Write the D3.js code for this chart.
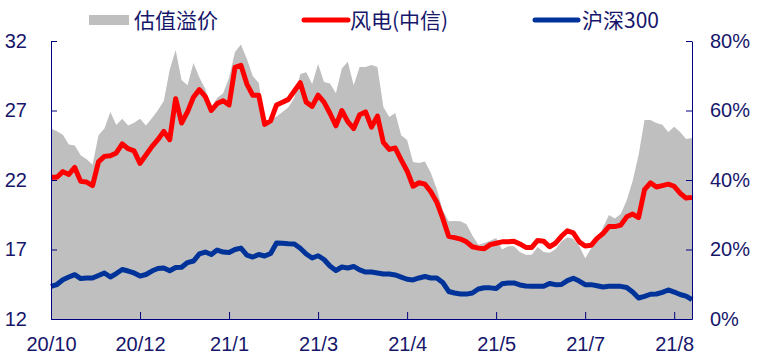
<!DOCTYPE html>
<html>
<head>
<meta charset="utf-8">
<script src="https://cdn.jsdelivr.net/npm/d3@7"></script>
<style>
  body { margin: 0; background: #fff; }
  .axis text { font-family: "Liberation Sans", Arial, sans-serif; font-size: 20px; fill: #16166b; }
  .axis path, .axis line { stroke: #000080; stroke-width: 1; }
  .legend text { font-family: "Noto Sans CJK SC", sans-serif; font-size: 21px; fill: #16166b; }
</style>
</head>
<body>
<script>
// x tick labels, one every 15 points
var tickLabels = ["20/10", "20/12", "21/1", "21/3", "21/4", "21/5", "21/7", "21/8"];
var tickStep = 15;

// 估值溢价 (%) - right axis
var premium = [54.8,54.0,53.0,50.2,49.9,47.1,46.0,44.4,52.9,54.8,
  59.6,55.8,57.6,55.7,56.5,57.6,55.7,57.8,60.1,62.7,
  71.7,77.4,68.8,67.3,73.7,69.5,66.2,61.0,63.6,65.0,
  69.4,76.8,79.0,74.8,69.9,67.9,57.0,57.3,58.3,59.6,
  60.9,63.7,70.5,71.0,67.6,73.4,68.2,67.8,65.0,72.1,
  74.0,67.3,72.5,72.5,73.1,72.5,61.0,58.1,59.3,52.9,
  51.5,45.2,44.9,45.3,42.0,37.4,31.4,28.1,28.2,28.1,
  27.3,24.0,21.4,21.9,22.5,23.3,20.0,20.9,20.9,19.3,
  18.5,18.5,20.7,19.3,19.1,20.1,22.3,23.5,23.0,21.0,
  17.5,20.3,22.4,26.3,29.9,28.9,30.2,34.2,39.7,47.2,
  57.3,57.3,56.4,55.9,53.8,55.3,53.8,51.8,52.1];

// 风电(中信) PE - left axis
var windPE = [22.2,22.2,22.6,22.4,22.9,21.9,21.85,21.6,23.3,23.7,
  23.75,23.95,24.6,24.25,24.1,23.2,23.8,24.4,24.9,25.5,
  24.9,27.85,26.1,26.9,27.95,28.5,28.0,27.0,27.5,27.7,
  27.4,30.1,30.25,28.9,28.1,28.1,26.0,26.25,27.4,27.6,
  27.8,28.4,29.0,27.6,27.3,28.1,27.6,26.8,25.9,27.0,
  26.2,25.7,26.7,26.9,25.8,26.6,24.7,24.2,24.3,23.45,
  22.65,21.55,21.8,21.7,21.15,20.4,19.25,17.95,17.85,17.75,
  17.55,17.2,17.1,17.05,17.35,17.45,17.55,17.55,17.6,17.4,
  17.15,17.15,17.65,17.6,17.2,17.45,17.95,18.35,18.2,17.55,
  17.25,17.3,17.8,18.15,18.65,18.65,18.75,19.35,19.55,19.3,
  21.3,21.8,21.5,21.6,21.7,21.55,21.05,20.7,20.75];

// 沪深300 PE - left axis
var hs300PE = [14.35,14.48,14.82,15.02,15.19,14.91,14.95,14.95,15.13,15.31,
  15.02,15.27,15.56,15.45,15.31,15.09,15.2,15.45,15.63,15.67,
  15.47,15.7,15.72,16.06,16.17,16.68,16.82,16.64,16.96,16.82,
  16.78,17.0,17.1,16.6,16.46,16.64,16.53,16.71,17.47,17.45,
  17.42,17.4,17.09,16.68,16.39,16.55,16.28,15.81,15.49,15.74,
  15.67,15.78,15.53,15.38,15.38,15.31,15.24,15.24,15.17,15.02,
  14.86,14.81,14.95,15.06,14.95,14.95,14.63,13.98,13.87,13.8,
  13.79,13.87,14.16,14.25,14.24,14.19,14.53,14.59,14.59,14.45,
  14.37,14.35,14.35,14.35,14.55,14.47,14.48,14.76,14.93,14.73,
  14.47,14.47,14.39,14.3,14.35,14.35,14.35,14.27,13.94,13.51,
  13.63,13.78,13.8,13.92,14.09,13.94,13.76,13.65,13.39];

var leftTicks = [12, 17, 22, 27, 32];
var rightTicks = [0, 20, 40, 60, 80];

var w = 762;
var h = 362;
// plot box (names avoid window.top etc)
var plotL = 51, plotR = 692, plotT = 41, plotB = 319;

var svg = d3.select("body")
  .append("svg")
  .attr("width", w)
  .attr("height", h);

var x = d3.scaleLinear().domain([0, windPE.length - 1]).range([plotL, plotR]);
var yL = d3.scaleLinear().domain([12, 32]).range([plotB, plotT]);
var yR = d3.scaleLinear().domain([0, 80]).range([plotB, plotT]);

// gray premium area
svg.append("path")
  .datum(premium)
  .attr("fill", "#bfbfbf")
  .attr("d", d3.area()
    .x(function(d, i) { return x(i); })
    .y0(yR(0))
    .y1(function(d) { return yR(d); }));

var lineL = d3.line()
  .x(function(d, i) { return x(i); })
  .y(function(d) { return yL(d); });

svg.append("path")
  .datum(hs300PE)
  .attr("fill", "none")
  .attr("stroke", "#003399")
  .attr("stroke-width", 5)
  .attr("stroke-linejoin", "round")
  .attr("d", lineL);

svg.append("path")
  .datum(windPE)
  .attr("fill", "none")
  .attr("stroke", "#ff0000")
  .attr("stroke-width", 5)
  .attr("stroke-linejoin", "round")
  .attr("d", lineL);

// axes
svg.append("g")
  .attr("class", "axis")
  .attr("transform", "translate(" + plotL + ",0)")
  .call(d3.axisLeft(yL).tickValues(leftTicks).tickSize(-6).tickSizeOuter(0).tickPadding(24));

svg.append("g")
  .attr("class", "axis")
  .attr("transform", "translate(" + plotR + ",0)")
  .call(d3.axisRight(yR).tickValues(rightTicks).tickSize(-6).tickSizeOuter(0).tickPadding(18)
    .tickFormat(function(d) { return d + "%"; }));

var xTicks = tickLabels.map(function(d, i) { return i * tickStep; });
svg.append("g")
  .attr("class", "axis")
  .attr("transform", "translate(0," + plotB + ")")
  .call(d3.axisBottom(x).tickValues(xTicks).tickSize(-7).tickSizeOuter(0).tickPadding(18)
    .tickFormat(function(d, i) { return tickLabels[i]; }));

svg.selectAll(".axis .domain").attr("stroke", "#000080");

// legend
var legend = svg.append("g").attr("class", "legend");
legend.append("rect")
  .attr("x", 89).attr("y", 15).attr("width", 40).attr("height", 10)
  .attr("fill", "#bfbfbf");
legend.append("text").attr("x", 134).attr("y", 28).text("估值溢价");

legend.append("line")
  .attr("x1", 304).attr("x2", 348).attr("y1", 20).attr("y2", 20)
  .attr("stroke", "#ff0000").attr("stroke-width", 5).attr("stroke-linecap", "round");
legend.append("text").attr("x", 350).attr("y", 28).text("风电(中信)");

legend.append("line")
  .attr("x1", 535).attr("x2", 578).attr("y1", 20).attr("y2", 20)
  .attr("stroke", "#003399").attr("stroke-width", 5).attr("stroke-linecap", "round");
legend.append("text").attr("x", 582).attr("y", 28).text("沪深300");
</script>
</body>
</html>
